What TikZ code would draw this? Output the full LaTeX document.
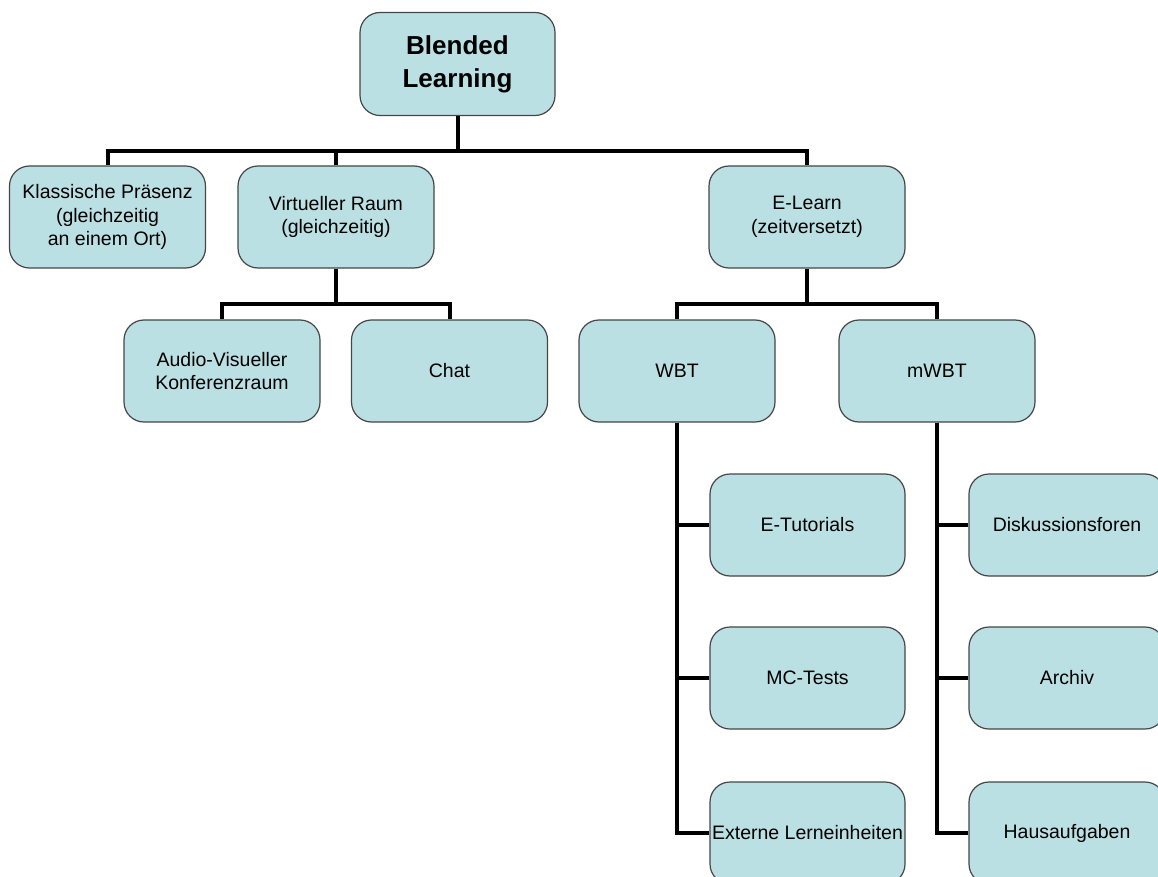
\documentclass[tikz,border=0pt]{standalone}
\usepackage{fontspec}
\setmainfont{Liberation Sans}
\definecolor{boxfill}{RGB}{187,224,227}
\definecolor{boxline}{RGB}{70,70,70}
\begin{document}
\begin{tikzpicture}[x=1pt,y=-1pt,
  box/.style={draw=boxline, line width=1.2pt, fill=boxfill, rounded corners=20pt,
    minimum width=196pt, minimum height=102pt, align=center, inner sep=2pt,
    font=\fontsize{19.5}{23.5}\selectfont},
  topbox/.style={box, minimum width=195pt, minimum height=103pt,
    font=\fontsize{26}{33}\selectfont\bfseries},
  conn/.style={line width=4pt, draw=black, line join=miter}]
\clip (0,0) rectangle (1158,877);
\fill[white] (0,0) rectangle (1158,877);
\coordinate (bus1) at (0,151);
\coordinate (bus2) at (0,304);
% connectors first
\node[topbox] (BL) at (457.5,64) {Blended\\Learning};
\node[box] (KP) at (107.5,217) {Klassische Präsenz\\(gleichzeitig\\an einem Ort)};
\node[box] (VR) at (336,217) {Virtueller Raum\\(gleichzeitig)};
\node[box] (EL) at (807,217) {E-Learn\\(zeitversetzt)};
\node[box] (AV) at (222,371) {Audio-Visueller\\Konferenzraum};
\node[box] (CH) at (449.5,371) {Chat};
\node[box] (WBT) at (677,371) {WBT};
\node[box] (MWBT) at (937,371) {mWBT};
\node[box, minimum width=195pt] (ET) at (807.5,525) {E-Tutorials};
\node[box, minimum width=195pt] (MC) at (807.5,678) {MC-Tests};
\node[box, minimum width=195pt, inner sep=0pt] (EX) at (807.5,833) {Externe Lerneinheiten};
\node[box] (DI) at (1067,525) {Diskussionsforen};
\node[box] (AR) at (1067,678) {Archiv};
\node[box] (HA) at (1067,833) {Hausaufgaben};
\begin{scope}[on background layer/.try]
\end{scope}
\draw[conn] (BL.south) -- (BL.south |- bus1);
\draw[conn] (KP.north) -- (KP.north |- bus1) -- (EL.north |- bus1) -- (EL.north);
\draw[conn] (VR.north) -- (VR.north |- bus1);
\draw[conn] (VR.south) -- (VR.south |- bus2);
\draw[conn] (AV.north) -- (AV.north |- bus2) -- (CH.north |- bus2) -- (CH.north);
\draw[conn] (EL.south) -- (EL.south |- bus2);
\draw[conn] (WBT.north) -- (WBT.north |- bus2) -- (MWBT.north |- bus2) -- (MWBT.north);
\draw[conn] (WBT.south) |- (ET.west);
\draw[conn] (WBT.south) |- (MC.west);
\draw[conn] (WBT.south) |- (EX.west);
\draw[conn] (MWBT.south) |- (DI.west);
\draw[conn] (MWBT.south) |- (AR.west);
\draw[conn] (MWBT.south) |- (HA.west);
\end{tikzpicture}
\end{document}
